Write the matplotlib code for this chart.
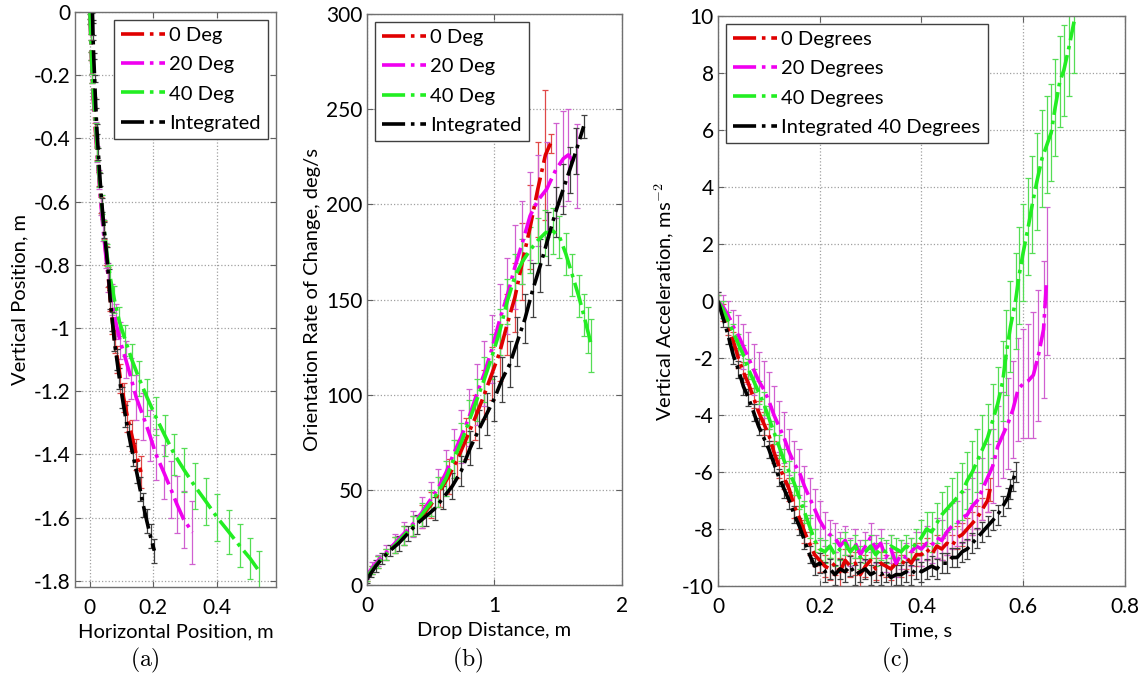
import numpy as np
import matplotlib
matplotlib.use("Agg")
import matplotlib.pyplot as plt
from matplotlib.ticker import FuncFormatter

plt.rcParams['font.family'] = ['Lato', 'DejaVu Sans']
plt.rcParams['axes.unicode_minus'] = False
plt.rcParams['mathtext.fontset'] = 'cm'

# ---------------- (a) trajectory: horizontal vs vertical position ----------------
a_deg0_x = [0, 0.001, 0.003, 0.005, 0.008, 0.012, 0.017, 0.023, 0.029, 0.036, 0.043, 0.051,
            0.058, 0.064, 0.071, 0.078, 0.087, 0.096, 0.106, 0.118, 0.132, 0.146, 0.161]
a_deg0_y = [0, -0.03, -0.08, -0.14, -0.21, -0.29, -0.37, -0.45, -0.53, -0.61, -0.69, -0.77,
            -0.84, -0.91, -0.98, -1.04, -1.10, -1.16, -1.22, -1.28, -1.34, -1.40, -1.456]
a_deg0_e = [0.005, 0.008, 0.01, 0.012, 0.014, 0.016, 0.018, 0.02, 0.022, 0.025, 0.028, 0.03,
            0.032, 0.035, 0.038, 0.04, 0.042, 0.045, 0.045, 0.048, 0.05, 0.05, 0.05]

a_deg20_x = [0, 0.001, 0.003, 0.005, 0.008, 0.012, 0.018, 0.023, 0.029, 0.035, 0.042, 0.050,
             0.058, 0.069, 0.081, 0.095, 0.113, 0.130, 0.146, 0.168, 0.189, 0.208, 0.232,
             0.255, 0.275, 0.295, 0.323]
a_deg20_y = [0, -0.03, -0.08, -0.14, -0.21, -0.29, -0.37, -0.45, -0.53, -0.61, -0.69, -0.77,
             -0.84, -0.91, -0.98, -1.04, -1.10, -1.16, -1.22, -1.28, -1.34, -1.40, -1.455,
             -1.51, -1.56, -1.605, -1.647]
a_deg20_e = [0.005, 0.008, 0.01, 0.012, 0.015, 0.02, 0.022, 0.025, 0.03, 0.032, 0.035, 0.04,
             0.045, 0.05, 0.055, 0.058, 0.06, 0.065, 0.07, 0.075, 0.08, 0.08, 0.085,
             0.09, 0.09, 0.09, 0.1]

a_deg40_x = [0, 0.001, 0.003, 0.005, 0.008, 0.013, 0.019, 0.024, 0.030, 0.037, 0.045, 0.054,
             0.064, 0.077, 0.093, 0.112, 0.132, 0.155, 0.180, 0.207, 0.236, 0.266, 0.297,
             0.330, 0.366, 0.401, 0.437, 0.472, 0.505, 0.533]
a_deg40_y = [0, -0.03, -0.08, -0.14, -0.21, -0.29, -0.37, -0.45, -0.53, -0.61, -0.69, -0.77,
             -0.84, -0.91, -0.98, -1.04, -1.10, -1.16, -1.22, -1.28, -1.34, -1.40, -1.45,
             -1.50, -1.55, -1.60, -1.645, -1.69, -1.73, -1.77]
a_deg40_e = [0.005, 0.008, 0.01, 0.012, 0.015, 0.018, 0.02, 0.022, 0.025, 0.03, 0.032, 0.035,
             0.04, 0.042, 0.045, 0.05, 0.05, 0.055, 0.058, 0.06, 0.065, 0.065, 0.07,
             0.072, 0.075, 0.075, 0.07, 0.068, 0.065, 0.065]

a_int_x = [0.008, 0.009, 0.010, 0.012, 0.015, 0.018, 0.022, 0.027, 0.032, 0.038, 0.045, 0.053,
           0.059, 0.064, 0.071, 0.077, 0.085, 0.093, 0.102, 0.112, 0.123, 0.135, 0.147,
           0.158, 0.168, 0.179, 0.191, 0.203]
a_int_y = [0, -0.03, -0.08, -0.14, -0.21, -0.29, -0.37, -0.45, -0.53, -0.61, -0.69, -0.77,
           -0.84, -0.91, -0.98, -1.04, -1.10, -1.16, -1.22, -1.28, -1.34, -1.40, -1.455,
           -1.51, -1.56, -1.61, -1.66, -1.705]
a_int_e = [0.004, 0.006, 0.008, 0.01, 0.012, 0.014, 0.016, 0.018, 0.02, 0.022, 0.024, 0.026,
           0.028, 0.03, 0.03, 0.032, 0.032, 0.034, 0.034, 0.035, 0.035, 0.036, 0.036,
           0.037, 0.037, 0.038, 0.038, 0.038]

# ---------------- (b) orientation rate vs drop distance ----------------
b_deg0_x = [0.00, 0.04, 0.09, 0.15, 0.22, 0.29, 0.36, 0.43, 0.50, 0.57, 0.64, 0.71, 0.78,
            0.85, 0.92, 0.98, 1.04, 1.10, 1.16, 1.22, 1.28, 1.34, 1.40, 1.44]
b_deg0_y = [4, 8, 12, 16, 21, 26, 31, 36, 42, 49, 57, 66, 77, 88, 100, 111, 122, 137, 151,
            170, 188, 208, 226, 232]
b_deg0_e = [2, 2, 3, 3, 4, 5, 5, 6, 7, 8, 9, 10, 11, 12, 13, 14, 15, 16, 18, 20, 22, 25,
            34, 5]

b_deg20_x = [0.00, 0.04, 0.09, 0.15, 0.22, 0.29, 0.36, 0.43, 0.50, 0.56, 0.62, 0.68, 0.74,
             0.80, 0.86, 0.92, 0.98, 1.04, 1.10, 1.16, 1.22, 1.28, 1.34, 1.41, 1.48, 1.54,
             1.58, 1.645]
b_deg20_y = [5, 9, 13, 17, 22, 27, 32, 38, 45, 51, 59, 69, 78, 88, 100, 111, 124, 139, 152,
             167, 180, 194, 202, 208, 218, 224, 226, 220]
b_deg20_e = [2, 3, 3, 4, 5, 6, 7, 8, 9, 10, 12, 13, 14, 15, 16, 17, 18, 19, 20, 22, 22, 23,
             24, 25, 25, 25, 24, 22]

b_deg40_x = [0.00, 0.04, 0.09, 0.15, 0.22, 0.29, 0.36, 0.43, 0.50, 0.56, 0.62, 0.68, 0.74,
             0.80, 0.86, 0.92, 0.98, 1.04, 1.10, 1.16, 1.22, 1.28, 1.34, 1.40, 1.46, 1.51,
             1.56, 1.61, 1.66, 1.70, 1.73, 1.76]
b_deg40_y = [4, 8, 12, 16, 21, 26, 31, 37, 43, 49, 56, 66, 75, 86, 97, 108, 120, 133, 149,
             162, 170, 176, 181, 185, 186, 183, 174, 163, 152, 142, 134, 126]
b_deg40_e = [2, 2, 3, 3, 4, 5, 5, 6, 7, 8, 9, 10, 10, 11, 11, 12, 12, 12, 12, 12, 12, 12,
             12, 12, 12, 11, 11, 11, 11, 11, 12, 14]

b_int_x = [0.00, 0.03, 0.07, 0.12, 0.18, 0.25, 0.32, 0.39, 0.46, 0.53, 0.60, 0.67, 0.74,
           0.81, 0.88, 0.94, 1.00, 1.06, 1.12, 1.18, 1.24, 1.30, 1.36, 1.42, 1.48, 1.54,
           1.59, 1.64, 1.70]
b_int_y = [3, 6, 10, 14, 18, 22, 27, 32, 36, 40, 46, 52, 60, 72, 82, 90, 98, 108, 116, 128,
           140, 155, 168, 182, 196, 208, 218, 228, 241]
b_int_e = [2, 2, 3, 3, 3, 4, 4, 5, 5, 6, 6, 7, 8, 9, 10, 11, 12, 12, 12, 13, 13, 14, 14,
           14, 13, 13, 12, 12, 6]

# ---------------- (c) vertical acceleration vs time ----------------
c_deg0_t = [0.00, 0.01, 0.02, 0.03, 0.04, 0.05, 0.06, 0.07, 0.08, 0.09, 0.10, 0.11, 0.12,
            0.13, 0.14, 0.15, 0.16, 0.17, 0.18, 0.19, 0.20, 0.21, 0.22, 0.23, 0.24, 0.25,
            0.26, 0.27, 0.28, 0.29, 0.30, 0.31, 0.32, 0.33, 0.34, 0.35, 0.36, 0.37, 0.38,
            0.39, 0.40, 0.41, 0.42, 0.43, 0.44, 0.45, 0.46, 0.47, 0.48, 0.49, 0.50, 0.51,
            0.52, 0.53, 0.535]
c_deg0_a = [0.0, -0.4, -0.9, -1.4, -2.0, -2.5, -2.9, -3.4, -3.9, -4.3, -4.7, -5.3, -5.8,
            -6.2, -6.6, -7.2, -7.6, -8.1, -8.5, -8.9, -9.1, -9.3, -9.4, -9.2, -9.5, -9.1,
            -9.3, -9.2, -9.6, -9.3, -9.1, -9.4, -9.2, -9.3, -9.4, -9.2, -9.3, -9.0, -9.2,
            -8.9, -8.9, -8.7, -8.9, -8.6, -8.7, -8.5, -8.6, -8.3, -8.2, -8.0, -7.8, -7.6,
            -7.3, -7.0, -6.6]
c_deg0_e = [0.2, 0.3, 0.3, 0.3, 0.35, 0.35, 0.35, 0.35, 0.4, 0.4, 0.4, 0.4, 0.4,
            0.4, 0.4, 0.4, 0.4, 0.4, 0.4, 0.4, 0.4, 0.4, 0.4, 0.4, 0.5, 0.4,
            0.4, 0.4, 0.6, 0.4, 0.4, 0.4, 0.4, 0.4, 0.4, 0.4, 0.4, 0.4, 0.4,
            0.4, 0.4, 0.4, 0.4, 0.4, 0.4, 0.4, 0.4, 0.4, 0.4, 0.4, 0.4, 0.4,
            0.4, 0.4, 0.4]

c_deg20_t = [0.00, 0.01, 0.02, 0.03, 0.04, 0.05, 0.06, 0.07, 0.08, 0.09, 0.10, 0.11, 0.12,
             0.13, 0.14, 0.15, 0.16, 0.17, 0.18, 0.19, 0.20, 0.21, 0.22, 0.23, 0.24, 0.25,
             0.26, 0.27, 0.28, 0.29, 0.30, 0.31, 0.32, 0.33, 0.34, 0.35, 0.36, 0.37, 0.38,
             0.39, 0.40, 0.41, 0.42, 0.43, 0.44, 0.45, 0.46, 0.47, 0.48, 0.49, 0.50, 0.51,
             0.52, 0.53, 0.54, 0.55, 0.56, 0.57, 0.58, 0.59, 0.60, 0.61, 0.62, 0.63, 0.64,
             0.646]
c_deg20_a = [0.0, -0.2, -0.5, -0.9, -1.2, -1.6, -2.0, -2.4, -2.8, -3.1, -3.5, -4.0, -4.4,
             -4.8, -5.3, -5.7, -6.0, -6.5, -6.9, -7.3, -7.7, -8.0, -8.2, -8.3, -8.6, -8.4,
             -8.8, -8.5, -8.9, -8.6, -8.3, -8.7, -8.5, -9.0, -8.7, -9.2, -8.9, -9.0, -8.8,
             -8.6, -8.7, -8.5, -8.6, -8.3, -8.4, -8.1, -7.9, -7.8, -7.6, -7.5, -7.2, -7.0,
             -6.6, -6.2, -5.8, -5.1, -4.7, -4.3, -3.8, -3.1, -2.9, -2.8, -2.6, -1.9, -1.0,
             0.7]
c_deg20_e = [0.3, 0.4, 0.5, 0.6, 0.7, 0.8, 0.9, 0.9, 1.0, 1.0, 1.0, 1.0, 0.9,
             0.9, 0.8, 0.8, 0.8, 0.7, 0.7, 0.7, 0.7, 0.6, 0.5, 0.5, 0.5, 0.5,
             0.5, 0.5, 0.5, 0.5, 0.5, 0.5, 0.5, 0.5, 0.5, 0.5, 0.5, 0.5, 0.5,
             0.5, 0.6, 0.6, 0.6, 0.7, 0.7, 0.8, 0.8, 0.8, 0.9, 0.9, 1.0, 1.0,
             1.1, 1.2, 1.3, 1.4, 1.5, 1.6, 1.7, 1.8, 1.9, 2.0, 2.2, 2.3, 2.4,
             2.6]

c_deg40_t = [0.00, 0.01, 0.02, 0.03, 0.04, 0.05, 0.06, 0.07, 0.08, 0.09, 0.10, 0.11, 0.12,
             0.13, 0.14, 0.15, 0.16, 0.17, 0.18, 0.19, 0.20, 0.21, 0.22, 0.23, 0.24, 0.25,
             0.26, 0.27, 0.28, 0.29, 0.30, 0.31, 0.32, 0.33, 0.34, 0.35, 0.36, 0.37, 0.38,
             0.39, 0.40, 0.41, 0.42, 0.43, 0.44, 0.45, 0.46, 0.47, 0.48, 0.49, 0.50, 0.51,
             0.52, 0.53, 0.54, 0.55, 0.56, 0.567, 0.575, 0.585, 0.592, 0.600, 0.610, 0.618,
             0.627, 0.637, 0.647, 0.655, 0.663, 0.672, 0.680, 0.690, 0.700]
c_deg40_a = [0.0, -0.3, -0.7, -1.1, -1.5, -1.9, -2.4, -2.8, -3.2, -3.6, -4.1, -4.6, -5.1,
             -5.6, -6.0, -6.4, -6.9, -7.4, -7.9, -8.4, -8.7, -8.8, -8.6, -8.9, -8.7, -8.5,
             -8.8, -8.6, -9.0, -8.8, -8.6, -8.9, -8.7, -8.8, -8.6, -8.7, -8.8, -8.6, -8.7,
             -8.5, -8.3, -8.0, -8.1, -7.8, -7.5, -7.3, -7.1, -6.9, -6.7, -6.3, -6.0, -5.6,
             -5.2, -4.8, -4.2, -3.6, -2.8, -1.8, -0.9, 0.0, 0.9, 1.7, 2.6, 3.4,
             4.2, 5.0, 5.5, 5.9, 6.8, 7.7, 8.1, 8.9, 9.8]
c_deg40_e = [0.2, 0.3, 0.3, 0.3, 0.35, 0.35, 0.35, 0.4, 0.4, 0.4, 0.4, 0.4, 0.4,
             0.4, 0.4, 0.4, 0.4, 0.4, 0.4, 0.4, 0.4, 0.4, 0.4, 0.4, 0.4, 0.4,
             0.4, 0.4, 0.4, 0.4, 0.4, 0.4, 0.4, 0.4, 0.4, 0.4, 0.4, 0.4, 0.4,
             0.5, 0.6, 0.6, 0.7, 0.7, 0.8, 0.8, 0.9, 0.9, 1.0, 1.0, 1.1, 1.1,
             1.2, 1.2, 1.3, 1.3, 1.4, 1.5, 1.6, 1.7, 1.7, 1.7, 1.7, 1.7,
             1.7, 1.7, 1.7, 1.7, 1.7, 1.6, 1.6, 1.7, 1.8]

c_int_t = [0.00, 0.01, 0.02, 0.03, 0.04, 0.05, 0.06, 0.07, 0.08, 0.09, 0.10, 0.11, 0.12,
           0.13, 0.14, 0.15, 0.16, 0.17, 0.18, 0.19, 0.20, 0.21, 0.22, 0.23, 0.24, 0.25,
           0.26, 0.27, 0.28, 0.29, 0.30, 0.31, 0.32, 0.33, 0.34, 0.35, 0.36, 0.37, 0.38,
           0.39, 0.40, 0.41, 0.42, 0.43, 0.44, 0.45, 0.46, 0.47, 0.48, 0.49, 0.50, 0.51,
           0.52, 0.53, 0.54, 0.55, 0.56, 0.57, 0.575, 0.58, 0.585]
c_int_a = [0.0, -0.6, -1.2, -1.9, -2.4, -3.0, -3.4, -3.9, -4.4, -4.8, -5.2, -5.7, -6.2,
           -6.6, -7.0, -7.5, -7.9, -8.4, -8.9, -9.3, -9.2, -9.5, -9.4, -9.6, -9.4, -9.5,
           -9.3, -9.6, -9.5, -9.4, -9.6, -9.5, -9.6, -9.5, -9.7, -9.6, -9.6, -9.5, -9.6,
           -9.4, -9.5, -9.4, -9.3, -9.4, -9.2, -9.2, -9.0, -9.0, -8.8, -8.7, -8.5, -8.3,
           -8.1, -7.9, -7.7, -7.5, -7.2, -6.9, -6.6, -6.3, -6.0]
c_int_e = [0.3] * 20 + [0.35] * 41

a_labels = ['0 Deg', '20 Deg', '40 Deg', 'Integrated']
c_labels = ['0 Degrees', '20 Degrees', '40 Degrees', 'Integrated 40 Degrees']

line_colors = ['#e00000', '#f000f0', '#22ee22', '#000000']
bar_colors = ['#e04848', '#d060d0', '#55dd55', '#404040']


def fmt(v, pos):
    return '%g' % round(v, 6)


def style_axes(ax):
    ax.grid(True, linestyle=':', color='#a0a0a0', linewidth=0.9)
    ax.tick_params(direction='in', top=True, right=True, labelsize=15,
                   length=4, color='#606060')
    ax.tick_params(axis='x', pad=8)
    ax.tick_params(axis='y', pad=3)
    for s in ax.spines.values():
        s.set_color('#707070')
        s.set_linewidth(1.0)
    ax.xaxis.set_major_formatter(FuncFormatter(fmt))
    ax.yaxis.set_major_formatter(FuncFormatter(fmt))


def draw(ax, series, labels, loc):
    handles = []
    for (x, y, e), lc, bc in zip(series, line_colors, bar_colors):
        cont = ax.errorbar(x, y, yerr=e, fmt='-.', color=lc, lw=2.6, ecolor=bc,
                           elinewidth=0.9, capsize=2, capthick=0.9)
        handles.append(cont[0])
    leg = ax.legend(handles, labels, loc=loc, fontsize=14.5, fancybox=False,
                    edgecolor='#404040', framealpha=1, handlelength=2.2,
                    handletextpad=0.2, borderpad=0.35, labelspacing=0.6,
                    borderaxespad=0.4)
    leg.get_frame().set_linewidth(1.0)


fig = plt.figure(figsize=(11.46, 6.77), dpi=100)

ax1 = fig.add_axes([0.0654, 0.1329, 0.1754, 0.8494])
draw(ax1, [(a_deg0_x, a_deg0_y, a_deg0_e), (a_deg20_x, a_deg20_y, a_deg20_e),
           (a_deg40_x, a_deg40_y, a_deg40_e), (a_int_x, a_int_y, a_int_e)],
     a_labels, 'upper right')
ax1.set_xlim(-0.047, 0.586)
ax1.set_ylim(-1.82, 0)
ax1.set_xticks([0, 0.2, 0.4])
ax1.set_yticks([0, -0.2, -0.4, -0.6, -0.8, -1, -1.2, -1.4, -1.6, -1.8])
ax1.set_xlabel('Horizontal Position, m', fontsize=14.5)
ax1.set_ylabel('Vertical Position, m', fontsize=14.5)
style_axes(ax1)

ax2 = fig.add_axes([0.3202, 0.1359, 0.2225, 0.8434])
draw(ax2, [(b_deg0_x, b_deg0_y, b_deg0_e), (b_deg20_x, b_deg20_y, b_deg20_e),
           (b_deg40_x, b_deg40_y, b_deg40_e), (b_int_x, b_int_y, b_int_e)],
     a_labels, 'upper left')
ax2.set_xlim(0, 2)
ax2.set_ylim(0, 300)
ax2.set_xticks([0, 1, 2])
ax2.set_yticks([0, 50, 100, 150, 200, 250, 300])
ax2.set_xlabel('Drop Distance, m', fontsize=14.5)
ax2.set_ylabel('Orientation Rate of Change, deg/s', fontsize=14.5)
style_axes(ax2)

ax3 = fig.add_axes([0.6265, 0.1344, 0.3551, 0.8420])
draw(ax3, [(c_deg0_t, c_deg0_a, c_deg0_e), (c_deg20_t, c_deg20_a, c_deg20_e),
           (c_deg40_t, c_deg40_a, c_deg40_e), (c_int_t, c_int_a, c_int_e)],
     c_labels, 'upper left')
ax3.set_xlim(0, 0.8)
ax3.set_ylim(-10, 10)
ax3.set_xticks([0, 0.2, 0.4, 0.6, 0.8])
ax3.set_yticks([-10, -8, -6, -4, -2, 0, 2, 4, 6, 8, 10])
ax3.set_xlabel('Time, s', fontsize=14.5)
ax3.set_ylabel('Vertical Acceleration, ms$^{-2}$', fontsize=14.5)
style_axes(ax3)

for xc, lab in [(0.1265, '(a)'), (0.408, '(b)'), (0.781, '(c)')]:
    fig.text(xc, 0.025, r'$\mathrm{%s}$' % lab, fontsize=17, ha='center', va='center')

fig.savefig('out.png', dpi=100)
